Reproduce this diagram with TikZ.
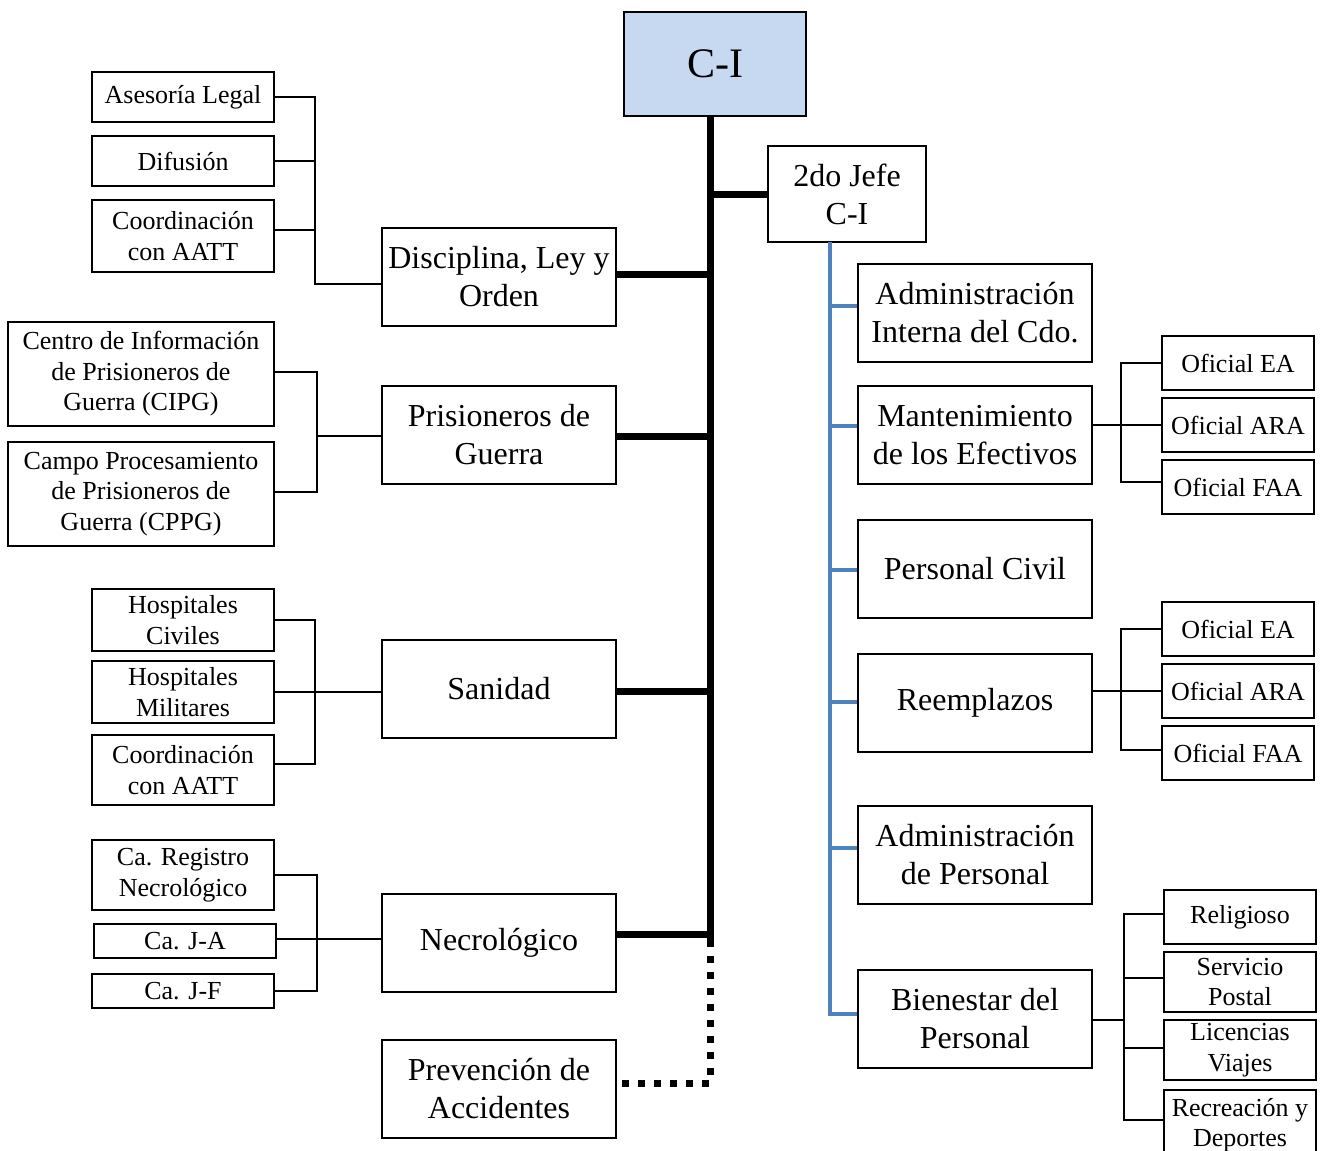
\documentclass[tikz,border=0pt]{standalone}
\usepackage{fontspec}
\setmainfont{Liberation Serif}
\begin{document}
\begin{tikzpicture}[x=1pt,y=-1pt,
  box/.style={draw=black, line width=1.6pt, align=center, inner sep=0pt, fill=white},
  bigtxt/.style={font=\fontsize{32}{38}\selectfont},
  smalltxt/.style={font=\fontsize{26}{30.5}\selectfont},
  thickline/.style={line width=7pt, draw=black},
  thinline/.style={line width=2pt, draw=black},
  blueline/.style={line width=4pt, draw=blueC},
  dotline/.style={line width=7pt, draw=black, dash pattern=on 7pt off 9pt}
]
\definecolor{blueC}{HTML}{4F81BD}
\definecolor{ciFill}{HTML}{C6D9F1}
\useasboundingbox (0,0) rectangle (1323,1151);

% connector coordinates
\coordinate (trunktop) at (710,116);
\coordinate (trunkend) at (710,940);
\coordinate (dotcorner) at (710,1083);
\coordinate (bluetop) at (830,242);
\coordinate (blueend) at (830,1014);

% main boxes
\node[box, fill=ciFill, minimum width=182, minimum height=104, font=\fontsize{42}{48}\selectfont] (ci) at (715,64) {C-I};
\node[box, bigtxt, minimum width=158, minimum height=96] (jefe) at (847,194) {2do Jefe\\C-I};

% left middle column
\node[box, bigtxt, minimum width=234, minimum height=98] (disc) at (499,277) {Disciplina, Ley y\\Orden};
\node[box, bigtxt, minimum width=234, minimum height=98] (pris) at (499,435) {Prisioneros de\\Guerra};
\node[box, bigtxt, minimum width=234, minimum height=98] (san) at (499,689) {Sanidad};
\node[box, bigtxt, minimum width=234, minimum height=98] (nec) at (499,943) {Necrológico};
\node[box, bigtxt, minimum width=234, minimum height=98] (prev) at (499,1089) {Prevención de\\Accidentes};

% left small boxes
\node[box, smalltxt, minimum width=182, minimum height=50] (ase) at (183,97) {Asesoría Legal};
\node[box, smalltxt, minimum width=182, minimum height=50] (dif) at (183,161) {Difusión};
\node[box, smalltxt, minimum width=182, minimum height=72] (coo1) at (183,236) {Coordinación\\con AATT};
\node[box, smalltxt, minimum width=266, minimum height=104] (cipg) at (141,374) {Centro de Información\\de Prisioneros de\\Guerra (CIPG)};
\node[box, smalltxt, minimum width=266, minimum height=104] (cppg) at (141,494) {Campo Procesamiento\\de Prisioneros de\\Guerra (CPPG)};
\node[box, smalltxt, minimum width=182, minimum height=62] (hc) at (183,620) {Hospitales\\Civiles};
\node[box, smalltxt, minimum width=182, minimum height=62] (hm) at (183,692) {Hospitales\\Militares};
\node[box, smalltxt, minimum width=182, minimum height=70] (coo2) at (183,770) {Coordinación\\con AATT};
\node[box, smalltxt, minimum width=182, minimum height=70] (reg) at (183,875) {Ca. Registro\\Necrológico};
\node[box, smalltxt, minimum width=182, minimum height=34] (ja) at (185,941) {Ca. J-A};
\node[box, smalltxt, minimum width=182, minimum height=34] (jf) at (183,991) {Ca. J-F};

% right column
\node[box, bigtxt, minimum width=234, minimum height=98] (adm) at (975,313) {Administración\\Interna del Cdo.};
\node[box, bigtxt, minimum width=234, minimum height=98] (mant) at (975,435) {Mantenimiento\\de los Efectivos};
\node[box, bigtxt, minimum width=234, minimum height=98] (civ) at (975,569) {Personal Civil};
\node[box, bigtxt, minimum width=234, minimum height=98] (reemp) at (975,703) {Reemplazos};
\node[box, bigtxt, minimum width=234, minimum height=98] (admp) at (975,855) {Administración\\de Personal};
\node[box, bigtxt, minimum width=234, minimum height=98] (bien) at (975,1019) {Bienestar del\\Personal};

% right small boxes
\node[box, smalltxt, minimum width=152, minimum height=54] (ea1) at (1238,363) {Oficial EA};
\node[box, smalltxt, minimum width=152, minimum height=54] (ara1) at (1238,425) {Oficial ARA};
\node[box, smalltxt, minimum width=152, minimum height=54] (faa1) at (1238,487) {Oficial FAA};
\node[box, smalltxt, minimum width=152, minimum height=54] (ea2) at (1238,629) {Oficial EA};
\node[box, smalltxt, minimum width=152, minimum height=54] (ara2) at (1238,691) {Oficial ARA};
\node[box, smalltxt, minimum width=152, minimum height=54] (faa2) at (1238,753) {Oficial FAA};
\node[box, smalltxt, minimum width=152, minimum height=54] (rel) at (1240,917) {Religioso};
\node[box, smalltxt, minimum width=152, minimum height=60] (post) at (1240,982) {Servicio\\Postal};
\node[box, smalltxt, minimum width=152, minimum height=60] (lic) at (1240,1050) {Licencias\\Viajes};
\node[box, smalltxt, minimum width=152, minimum height=70] (rec) at (1240,1125) {Recreación y\\Deportes};

% trunk and thick branches
\draw[thickline] (trunktop) -- (trunkend);
\draw[thickline] (jefe.west) -- (jefe.west -| trunktop);
\draw[thickline] (disc.east |- 0,274) -- (trunktop |- 0,274);
\draw[thickline] (pris.east |- 0,436) -- (trunktop |- 0,436);
\draw[thickline] (san.east |- 0,691) -- (trunktop |- 0,691);
\draw[thickline] (nec.east |- 0,934) -- (trunktop |- 0,934);
\draw[dotline] (trunkend) -- (dotcorner) -- (prev.east |- dotcorner);

% blue line
\draw[blueline] (bluetop) -- (blueend) -- (blueend -| bien.west);
\draw[blueline] (bluetop |- 0,306) -- (adm.west |- 0,306);
\draw[blueline] (bluetop |- 0,426) -- (mant.west |- 0,426);
\draw[blueline] (bluetop |- 0,570) -- (civ.west |- 0,570);
\draw[blueline] (bluetop |- 0,702) -- (reemp.west |- 0,702);
\draw[blueline] (bluetop |- 0,848) -- (admp.west |- 0,848);

% left brackets
\coordinate (br1) at (315,284);
\draw[thinline] (ase.east) -| (br1) -- (br1 -| disc.west);
\draw[thinline] (dif.east) -- (dif.east -| br1);
\draw[thinline] (coo1.east |- 0,230) -- (br1 |- 0,230);

\draw[thinline] (cipg.east |- 0,372) -- ++(42,0) |- (cppg.east |- 0,492);
\draw[thinline] (pris.west |- 0,436) -- (316,436);

\draw[thinline] (hc.east) -- ++(40,0) |- (coo2.east |- 0,764);
\draw[thinline] (hm.east) -- (hm.east -| san.west);

\draw[thinline] (reg.east) -- ++(42,0) |- (jf.east);
\draw[thinline] (ja.east |- 0,939) -- (nec.west |- 0,939);

% right brackets
\draw[thinline] (ea1.west) -- ++(-40,0) |- (faa1.west |- 0,482);
\draw[thinline] (mant.east |- ara1.west) -- (ara1.west);
\draw[thinline] (ea2.west) -- ++(-40,0) |- (faa2.west |- 0,750);
\draw[thinline] (reemp.east |- ara2.west) -- (ara2.west);
\draw[thinline] (rel.west |- 0,914) -- ++(-39,0) |- (rec.west |- 0,1120);
\draw[thinline] (bien.east |- 0,1020) -- (1125,1020);
\draw[thinline] (post.west |- 0,978) -- (1125,978);
\draw[thinline] (lic.west |- 0,1048) -- (1125,1048);
\end{tikzpicture}
\end{document}
